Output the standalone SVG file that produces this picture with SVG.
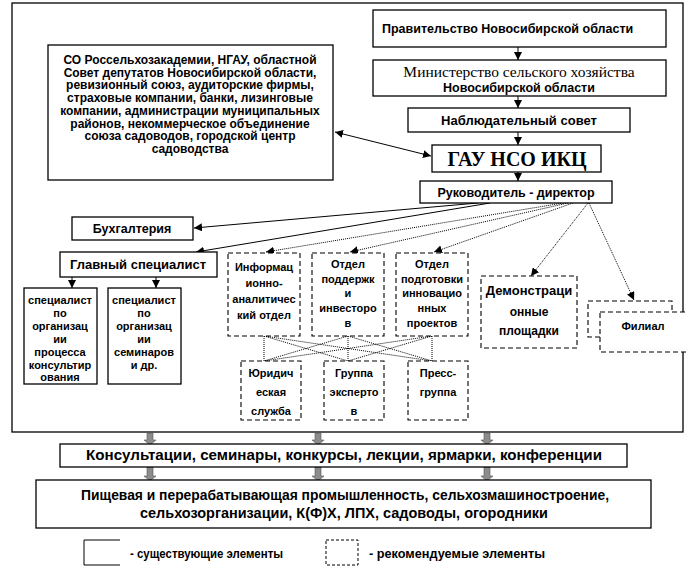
<svg xmlns="http://www.w3.org/2000/svg" width="687" height="579" viewBox="0 0 687 579" font-size="11">
<defs>
<style>
.b{fill:#fff;stroke:#000;stroke-width:1.3}
.d{fill:#fff;stroke:#000;stroke-width:1.1;stroke-dasharray:5 3}
.t{font-family:"Liberation Sans",Arial,sans-serif;font-weight:bold;fill:#000;text-anchor:middle}
.n{font-family:"Liberation Sans Narrow","Liberation Sans",Arial,sans-serif;font-weight:bold;fill:#000;text-anchor:middle}
.s{font-family:"Liberation Serif","Times New Roman",serif;fill:#000;text-anchor:middle}
.c{fill:none;stroke:#000;stroke-width:1}
.dot{fill:none;stroke:#000;stroke-width:1;stroke-dasharray:1 1}
.ga{fill:#8c8c8c;stroke:#555;stroke-width:0.6}
</style>
<marker id="ah" viewBox="0 0 10 10" refX="10" refY="5" markerWidth="8" markerHeight="8" markerUnits="userSpaceOnUse" orient="auto-start-reverse">
<path d="M0,0 L10,5 L0,10 z" fill="#000"/>
</marker>
</defs>
<rect x="0" y="0" width="687" height="579" fill="#fff"/>
<rect x="12" y="3" width="671" height="429" fill="none" stroke="#000" stroke-width="1.3"/>

<g id="connectors">
<line class="c" x1="518" y1="47" x2="518" y2="60" marker-end="url(#ah)"/>
<line class="c" x1="518" y1="96" x2="518" y2="108" marker-end="url(#ah)"/>
<line class="c" x1="518" y1="132" x2="518" y2="145" marker-end="url(#ah)"/>
<line class="c" x1="518" y1="172" x2="518" y2="181" marker-end="url(#ah)"/>
<line class="c" x1="335" y1="132" x2="431" y2="156" marker-start="url(#ah)" marker-end="url(#ah)"/>
<line class="c" x1="478" y1="203" x2="194" y2="228" marker-end="url(#ah)"/>
<line class="c" x1="490" y1="203" x2="196" y2="252" marker-end="url(#ah)"/>
<line class="dot" x1="563" y1="203" x2="266" y2="252" marker-end="url(#ah)"/>
<line class="dot" x1="568" y1="203" x2="350" y2="252" marker-end="url(#ah)"/>
<line class="dot" x1="573" y1="203" x2="434" y2="252" marker-end="url(#ah)"/>
<line class="dot" x1="588" y1="203" x2="531" y2="276" marker-end="url(#ah)"/>
<line class="dot" x1="589" y1="203" x2="634" y2="300" marker-end="url(#ah)"/>
<line class="c" x1="72" y1="277" x2="72" y2="288" marker-end="url(#ah)"/>
<line class="c" x1="156" y1="277" x2="156" y2="288" marker-end="url(#ah)"/>
<path class="dot" d="M264,336 V361 M348,336 V361 M432,336 V361 M264,336 L348,361 M264,336 L432,361 M348,336 L264,361 M348,336 L432,361 M432,336 L264,361 M432,336 L348,361"/>
<path class="ga" d="M147,433 h6 v7 h3 l-6,5 l-6,-5 h3 z"/>
<path class="ga" d="M315,433 h6 v7 h3 l-6,5 l-6,-5 h3 z"/>
<path class="ga" d="M484,433 h6 v7 h3 l-6,5 l-6,-5 h3 z"/>
<path class="ga" d="M147,467 h6 v9 h3 l-6,5 l-6,-5 h3 z"/>
<path class="ga" d="M315,467 h6 v9 h3 l-6,5 l-6,-5 h3 z"/>
<path class="ga" d="M484,467 h6 v9 h3 l-6,5 l-6,-5 h3 z"/>
</g>

<g id="n-pravitelstvo">
<rect class="b" x="373" y="10" width="293" height="37"/>
<text class="t" x="382" y="33" font-size="12.5" style="text-anchor:start">Правительство Новосибирской области</text>
</g>
<g id="n-ministerstvo">
<rect class="b" x="373" y="60" width="293" height="36"/>
<text class="s" x="519" y="77" font-size="15.5">Министерство сельского хозяйства</text>
<text class="t" x="519" y="92" font-size="12.5">Новосибирской области</text>
</g>
<g id="n-nablsovet">
<rect class="b" x="408" y="108" width="222" height="24"/>
<text class="t" x="519" y="125" font-size="13">Наблюдательный совет</text>
</g>
<g id="n-gau">
<rect class="b" x="432" y="145" width="169" height="27"/>
<text class="s" x="517" y="166" font-size="20" font-weight="bold">ГАУ НСО ИКЦ</text>
</g>
<g id="n-director">
<rect class="b" x="420" y="181" width="192" height="22"/>
<text class="t" x="516" y="197" font-size="12.5">Руководитель - директор</text>
</g>
<g id="n-partners">
<rect class="b" x="48" y="45" width="285" height="135"/>
<text class="t" x="190" y="64" font-size="12">СО Россельхозакадемии, НГАУ, областной</text>
<text class="t" x="190" y="76.7" font-size="12">Совет депутатов Новосибирской области,</text>
<text class="t" x="190" y="89.4" font-size="12">ревизионный союз, аудиторские фирмы,</text>
<text class="t" x="190" y="102.1" font-size="12">страховые компании, банки, лизинговые</text>
<text class="t" x="190" y="114.8" font-size="12">компании, администрации муниципальных</text>
<text class="t" x="190" y="127.5" font-size="12">районов, некоммерческое объединение</text>
<text class="t" x="190" y="140.2" font-size="12">союза садоводов, городской центр</text>
<text class="t" x="190" y="152.9" font-size="12">садоводства</text>
</g>
<g id="n-buh">
<rect class="b" x="72" y="217" width="121" height="23"/>
<text class="t" x="132" y="233" font-size="12.5">Бухгалтерия</text>
</g>
<g id="n-glavspec">
<rect class="b" x="60" y="252" width="157" height="25"/>
<text class="t" x="138" y="269" font-size="13">Главный специалист</text>
</g>
<g id="n-spec1">
<rect class="b" x="24" y="288" width="73" height="96"/>
<text class="t" x="60" y="304">специалист</text>
<text class="t" x="60" y="317">по</text>
<text class="t" x="60" y="330">организац</text>
<text class="t" x="60" y="343">ии</text>
<text class="t" x="60" y="356">процесса</text>
<text class="t" x="60" y="369">консультир</text>
<text class="t" x="60" y="381">ования</text>
</g>
<g id="n-spec2">
<rect class="b" x="108" y="288" width="73" height="96"/>
<text class="t" x="144" y="304">специалист</text>
<text class="t" x="144" y="317">по</text>
<text class="t" x="144" y="330">организац</text>
<text class="t" x="144" y="343">ии</text>
<text class="t" x="144" y="356">семинаров</text>
<text class="t" x="144" y="369">и др.</text>
</g>
<g id="n-inform">
<rect class="d" x="228" y="253" width="72" height="83"/>
<text class="t" x="264" y="271">Информац</text>
<text class="t" x="264" y="287">ионно-</text>
<text class="t" x="264" y="303">аналитичес</text>
<text class="t" x="264" y="319">кий отдел</text>
</g>
<g id="n-podderzhka">
<rect class="d" x="312" y="253" width="72" height="83"/>
<text class="t" x="348" y="268">Отдел</text>
<text class="t" x="348" y="283">поддержк</text>
<text class="t" x="348" y="297">и</text>
<text class="t" x="348" y="312">инвесторо</text>
<text class="t" x="348" y="327">в</text>
</g>
<g id="n-podgotovka">
<rect class="d" x="396" y="253" width="72" height="83"/>
<text class="t" x="432" y="268">Отдел</text>
<text class="t" x="432" y="283">подготовки</text>
<text class="t" x="432" y="297">инновацио</text>
<text class="t" x="432" y="312">нных</text>
<text class="t" x="432" y="327">проектов</text>
</g>
<g id="n-demo">
<rect class="d" x="481" y="276" width="96" height="72"/>
<text class="t" x="529" y="295" font-size="13">Демонстраци</text>
<text class="t" x="529" y="316" font-size="12">онные</text>
<text class="t" x="529" y="335" font-size="12">площадки</text>
</g>
<g id="n-filial">
<rect class="d" x="588" y="301" width="84" height="36"/>
<rect class="d" x="600" y="312" width="95" height="40"/>
<text class="t" x="643" y="330">Филиал</text>
</g>
<g id="n-yurid">
<rect class="d" x="241" y="361" width="60" height="59"/>
<text class="t" x="271" y="377">Юридич</text>
<text class="t" x="271" y="396">еская</text>
<text class="t" x="271" y="415">служба</text>
</g>
<g id="n-experts">
<rect class="d" x="324" y="361" width="60" height="59"/>
<text class="t" x="354" y="377">Группа</text>
<text class="t" x="354" y="396">эксперто</text>
<text class="t" x="354" y="415">в</text>
</g>
<g id="n-press">
<rect class="d" x="408" y="361" width="60" height="59"/>
<text class="t" x="438" y="377">Пресс-</text>
<text class="t" x="438" y="396">группа</text>
</g>
<g id="n-consult">
<rect class="b" x="60" y="444" width="567" height="23"/>
<text class="n" x="344" y="460" font-size="14.5" textLength="516" lengthAdjust="spacingAndGlyphs">Консультации, семинары, конкурсы, лекции, ярмарки, конференции</text>
</g>
<g id="n-industry">
<rect class="b" x="36" y="480" width="615" height="48"/>
<text class="n" x="345" y="500" font-size="14.5" textLength="528" lengthAdjust="spacingAndGlyphs">Пищевая и перерабатывающая промышленность, сельхозмашиностроение,</text>
<text class="n" x="344" y="518" font-size="14.5" textLength="408" lengthAdjust="spacingAndGlyphs">сельхозорганизации, К(Ф)Х, ЛПХ, садоводы, огородники</text>
</g>
<g id="legend">
<path d="M120,540 H84 V565 H120" fill="none" stroke="#000" stroke-width="1"/>
<text class="n" x="130" y="558" font-size="13.5" textLength="153" lengthAdjust="spacingAndGlyphs" style="text-anchor:start">- существующие элементы</text>
<rect x="326" y="540" width="32" height="25" fill="none" stroke="#000" stroke-width="1" stroke-dasharray="3 2"/>
<text class="n" x="369" y="558" font-size="13.5" textLength="176" lengthAdjust="spacingAndGlyphs" style="text-anchor:start">- рекомендуемые элементы</text>
</g>
</svg>
